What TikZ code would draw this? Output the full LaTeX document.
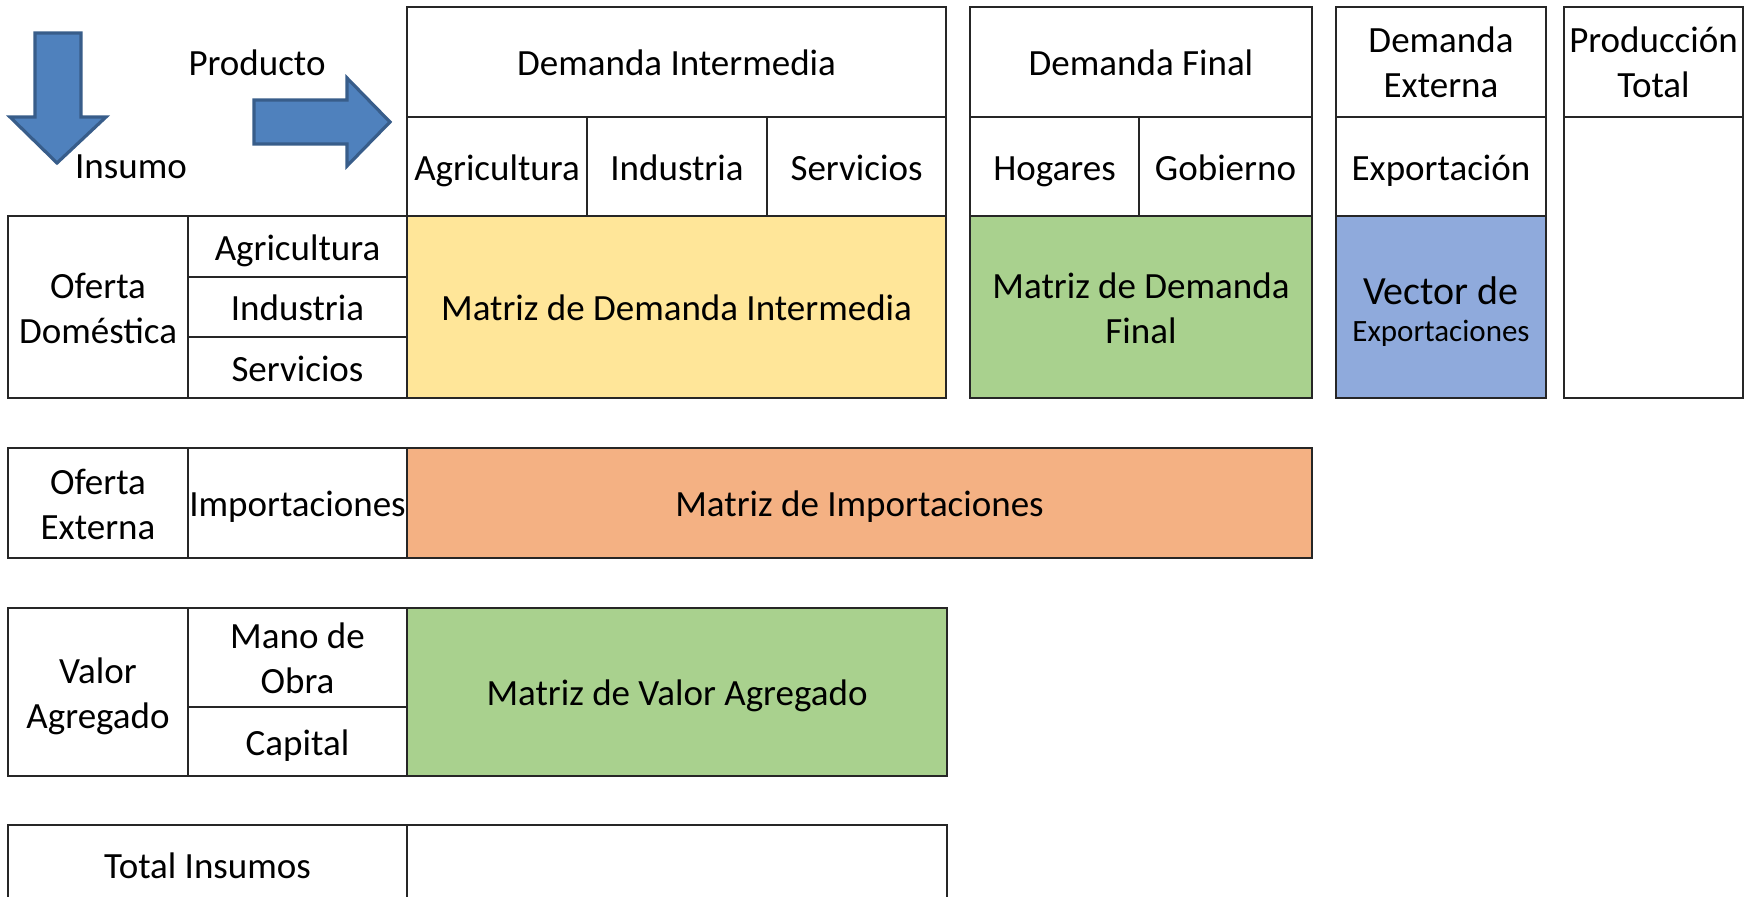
\documentclass[tikz,border=0pt]{standalone}
\usepackage{fontspec}
\setmainfont{Carlito}
\definecolor{dyellow}{HTML}{FFE699}
\definecolor{dgreen}{HTML}{A9D18E}
\definecolor{dblue}{HTML}{8FAADC}
\definecolor{dorange}{HTML}{F4B183}
\definecolor{arrowfill}{HTML}{4F81BD}
\definecolor{arrowline}{HTML}{385D8A}
\definecolor{lineg}{HTML}{262626}
\newcommand\tcell[7]{%
  \pgfmathsetmacro\cw{(#4-#2)*0.5}\pgfmathsetmacro\ch{(#5-#3)*0.5}%
  \node[cellbox,#6,minimum width=\cw pt,minimum height=\ch pt] (#1) at ({(#2+#4)/2},{(#3+#5)/2}) {#7};}
\newcommand\tln[1]{\rule[-0.243em]{0pt}{1.216em}#1}
\begin{document}
\begin{tikzpicture}[x=0.5pt,y=-0.5pt,
  cellbox/.style={draw=lineg,line width=0.6pt,inner sep=0pt,outer sep=0pt,align=center,
    font=\fontsize{18.5}{22.5}\selectfont},
  bigarrow/.style={fill=arrowfill,draw=arrowline,line width=1.6pt,line join=miter},
  lbl/.style={inner sep=0pt,anchor=base,font=\fontsize{18.5}{22.5}\selectfont}]
\useasboundingbox (0,0) rectangle (1754,897);
\clip (0,0) rectangle (1754,897);
% arrows
\draw[bigarrow] (35,33) -- (81,33) -- (81,117) -- (106,117) -- (57,163) -- (10,117) -- (35,117) -- cycle;
\draw[bigarrow] (254,100) -- (347,100) -- (347,78) -- (390,122) -- (347,166) -- (347,144) -- (254,144) -- cycle;
\node[lbl] (producto) at (257,76) {Producto};
\node[lbl] (insumo) at (131,179) {Insumo};
% Demanda intermedia header
\tcell{dih}{407}{7}{946}{117}{}{\tln{Demanda Intermedia}}
\tcell{dia}{407}{117}{587}{216}{}{\tln{Agricultura}}
\tcell{dii}{587}{117}{767}{216}{}{\tln{Industria}}
\tcell{dis}{767}{117}{946}{216}{}{\tln{Servicios}}
% Demanda final header
\tcell{dfh}{970}{7}{1312}{117}{}{\tln{Demanda Final}}
\tcell{dfho}{970}{117}{1139}{216}{}{\tln{Hogares}}
\tcell{dfgo}{1139}{117}{1312}{216}{}{\tln{Gobierno}}
% Demanda externa
\tcell{deh}{1336}{7}{1546}{117}{}{\tln{Demanda}\\\tln{Externa}}
\tcell{dex}{1336}{117}{1546}{216}{}{\tln{Exportación}}
\tcell{dev}{1336}{216}{1546}{398}{fill=dblue}{{\fontsize{20}{24}\selectfont\tln{Vector de}}\\[-4pt]{\fontsize{15.5}{19}\selectfont\tln{Exportaciones}}}
% Produccion total
\tcell{pth}{1564}{7}{1743}{117}{}{\tln{Producción}\\\tln{Total}}
\tcell{ptb}{1564}{117}{1743}{398}{}{}
% Oferta domestica
\tcell{od}{8}{216}{188}{398}{}{\tln{Oferta}\\\tln{Doméstica}}
\tcell{oda}{188}{216}{407}{277}{}{\tln{Agricultura}}
\tcell{odi}{188}{277}{407}{337}{}{\tln{Industria}}
\tcell{ods}{188}{337}{407}{398}{}{\tln{Servicios}}
\tcell{mdi}{407}{216}{946}{398}{fill=dyellow}{\tln{Matriz de Demanda Intermedia}}
\tcell{mdf}{970}{216}{1312}{398}{fill=dgreen}{\tln{Matriz de Demanda}\\\tln{Final}}
% Oferta externa
\tcell{oe}{8}{448}{188}{558}{}{\tln{Oferta}\\\tln{Externa}}
\tcell{oei}{188}{448}{407}{558}{}{\tln{Importaciones}}
\tcell{mim}{407}{448}{1312}{558}{fill=dorange}{\tln{Matriz de Importaciones}}
% Valor agregado
\tcell{va}{8}{608}{188}{776}{}{\tln{Valor}\\\tln{Agregado}}
\tcell{vam}{188}{608}{407}{707}{}{\tln{Mano de}\\\tln{Obra}}
\tcell{vac}{188}{707}{407}{776}{}{\tln{Capital}}
\tcell{mva}{407}{608}{947}{776}{fill=dgreen}{\tln{Matriz de Valor Agregado}}
% Total insumos
\tcell{ti}{8}{825}{407}{905}{}{\tln{Total Insumos}}
\tcell{tib}{407}{825}{947}{905}{}{}
\end{tikzpicture}
\end{document}
